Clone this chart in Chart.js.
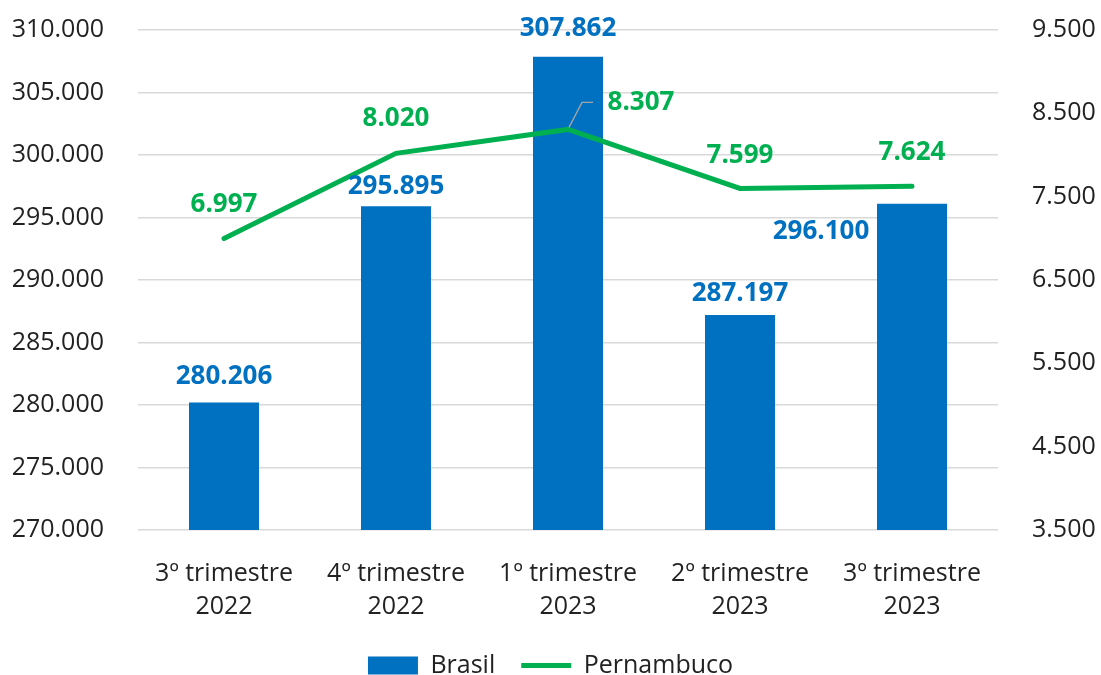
<!DOCTYPE html>
<html>
<head>
<meta charset="utf-8">
<script src="https://cdn.jsdelivr.net/npm/chart.js@4.4.1/dist/chart.umd.min.js"></script>
<style>
  html, body { margin: 0; padding: 0; background: #fff; }
  #wrap { width: 1101px; height: 675px; }
</style>
</head>
<body>
<div id="wrap"><canvas id="chart"></canvas></div>
<script>
const categories = [
    ['3º trimestre', '2022'],
    ['4º trimestre', '2022'],
    ['1º trimestre', '2023'],
    ['2º trimestre', '2023'],
    ['3º trimestre', '2023']
]
const brasil = [280206, 295895, 307862, 287197, 296100]
const pernambuco = [6997, 8020, 8307, 7599, 7624]

const fmt = v => v.toLocaleString('pt-BR')

// label offsets (dx, dy) from the mark, in px
const barLabelOffsets = [[0, -26], [0, -20], [0, -28], [0, -21], [-91, 28]]
const lineLabelOffsets = [[0, -34], [0, -35], [73, -27], [0, -33], [0, -34]]

const labelPlugin = {
    id: 'valueLabels',
    afterDatasetsDraw(chart) {
        const ctx = chart.ctx
        ctx.save()
        ctx.font = 'bold 26px "Open Sans"'
        ctx.textAlign = 'center'
        ctx.textBaseline = 'middle'

        const bars = chart.getDatasetMeta(1).data
        ctx.fillStyle = '#0070C0'
        bars.forEach((el, i) => {
            const [dx, dy] = barLabelOffsets[i]
            ctx.fillText(fmt(brasil[i]), el.x + dx, el.y + dy)
        })

        const pts = chart.getDatasetMeta(0).data
        // leader line for the shifted label
        const p = pts[2]
        ctx.strokeStyle = '#A6A6A6'
        ctx.lineWidth = 1.3
        ctx.beginPath()
        ctx.moveTo(p.x + 1, p.y - 2)
        ctx.lineTo(p.x + 14, p.y - 27)
        ctx.lineTo(p.x + 25, p.y - 27)
        ctx.stroke()

        ctx.fillStyle = '#00B050'
        pts.forEach((el, i) => {
            const [dx, dy] = lineLabelOffsets[i]
            ctx.fillText(fmt(pernambuco[i]), el.x + dx, el.y + dy)
        })
        ctx.restore()
    }
}

new Chart(document.getElementById('chart'), {
    data: {
        labels: categories,
        datasets: [
            {
                type: 'line',
                label: 'Pernambuco',
                data: pernambuco,
                yAxisID: 'y1',
                borderColor: '#00B050',
                backgroundColor: '#00B050',
                borderWidth: 5,
                borderCapStyle: 'round',
                pointRadius: 0,
                tension: 0,
                pointStyle: 'line',
                order: 0
            },
            {
                type: 'bar',
                label: 'Brasil',
                data: brasil,
                yAxisID: 'y',
                backgroundColor: '#0070C0',
                categoryPercentage: 1,
                barPercentage: 0.407,
                pointStyle: 'rect',
                order: 1
            }
        ]
    },
    options: {
        responsive: true,
        maintainAspectRatio: false,
        animation: false,
        layout: { padding: { left: 0, right: 0, top: 30, bottom: -13 } },
        plugins: {
            legend: {
                position: 'bottom',
                reverse: true,
                labels: {
                    usePointStyle: true,
                    pointStyleWidth: 50,
                    boxHeight: 18,
                    padding: 26,
                    color: '#222',
                    font: { family: 'Open Sans', size: 25 }
                }
            },
            tooltip: { enabled: false }
        },
        scales: {
            x: {
                grid: { display: false },
                border: { display: false },
                ticks: {
                    color: '#222',
                    font: { family: 'Open Sans', size: 25, lineHeight: 1.32 },
                    maxRotation: 0,
                    padding: 19
                },
                afterFit: s => { s.paddingLeft = 0; s.paddingRight = 0; s.height = 97 }
            },
            y: {
                position: 'left',
                min: 270000,
                max: 310000,
                ticks: {
                    stepSize: 5000,
                    color: '#222',
                    font: { family: 'Open Sans', size: 25 },
                    padding: 34,
                    callback: v => fmt(v)
                },
                grid: { color: '#D9D9D9', lineWidth: 1.5, drawTicks: false },
                border: { display: false },
                afterFit: s => { s.paddingTop = 0; s.paddingBottom = 0; s.width = 138 }
            },
            y1: {
                position: 'right',
                min: 3500,
                max: 9500,
                ticks: {
                    stepSize: 1000,
                    color: '#222',
                    font: { family: 'Open Sans', size: 25 },
                    padding: 34,
                    callback: v => fmt(v)
                },
                grid: { display: false, drawTicks: false },
                border: { display: false },
                afterFit: s => { s.paddingTop = 0; s.paddingBottom = 0; s.width = 103 }
            }
        }
    },
    plugins: [labelPlugin]
})
</script>
</body>
</html>
